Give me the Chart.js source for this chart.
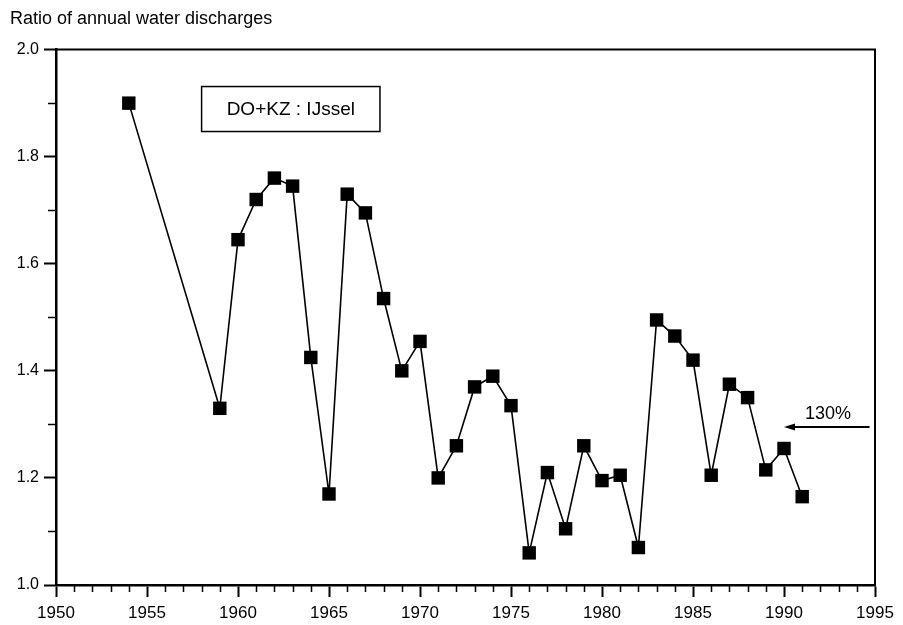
<!DOCTYPE html>
<html>
<head>
<meta charset="utf-8">
<script src="https://cdn.jsdelivr.net/npm/chart.js@4.4.1/dist/chart.umd.min.js"></script>
<style>
	html, body { margin: 0; padding: 0; background: #fff; }
	#wrap { width: 903px; height: 625px; position: relative; }
</style>
</head>
<body>
<div id="wrap"><canvas id="chart_ratio"></canvas></div>
<script>
'use strict';

// ratio DO+KZ : IJssel
const years = [1954, 1959, 1960, 1961, 1962, 1963, 1964, 1965, 1966, 1967, 1968, 1969, 1970,
	1971, 1972, 1973, 1974, 1975, 1976, 1977, 1978, 1979, 1980, 1981, 1982, 1983, 1984, 1985,
	1986, 1987, 1988, 1989, 1990, 1991];
const ratios = [1.90, 1.33, 1.645, 1.72, 1.76, 1.745, 1.425, 1.17, 1.73, 1.695, 1.535, 1.40, 1.455,
	1.20, 1.26, 1.37, 1.39, 1.335, 1.06, 1.21, 1.105, 1.26, 1.195, 1.205, 1.07, 1.495, 1.465, 1.42,
	1.205, 1.375, 1.35, 1.215, 1.255, 1.165];

const xTicks = [1950, 1955, 1960, 1965, 1970, 1975, 1980, 1985, 1990, 1995];
const yTicks = [1.0, 1.2, 1.4, 1.6, 1.8, 2.0];

const titleText = 'Ratio of annual water discharges';
const boxText = 'DO+KZ : IJssel';
const arrowText = '130%';
const arrowLevel = 1.295;

const FONT = '"Liberation Sans", Arial, Helvetica, sans-serif';
Chart.defaults.font.family = FONT;
Chart.defaults.color = '#000';

const notes = {
	id: 'notes',
	afterDraw(chart) {
		let ctx = chart.ctx,
			area = chart.chartArea,
			xs = chart.scales.x,
			ys = chart.scales.y;
		ctx.save();
		ctx.strokeStyle = '#000';
		ctx.fillStyle = '#000';

		// top and right frame
		ctx.lineWidth = 2;
		ctx.beginPath();
		ctx.moveTo(area.left, area.top);
		ctx.lineTo(area.right, area.top);
		ctx.lineTo(area.right, area.bottom);
		ctx.stroke();

		// minor ticks
		ctx.lineWidth = 1.5;
		ctx.beginPath();
		for (let yr = 1951; yr < 1995; yr++) {
			if (yr % 5 === 0) continue;
			let px = Math.round(xs.getPixelForValue(yr)) + 0.5;
			ctx.moveTo(px, area.bottom);
			ctx.lineTo(px, area.bottom + 7);
		}
		for (let v = 1.1; v < 2.0; v += 0.2) {
			let py = Math.round(ys.getPixelForValue(v)) + 0.5;
			ctx.moveTo(area.left - 8, py);
			ctx.lineTo(area.left, py);
		}
		ctx.stroke();

		// label box
		let bx1 = xs.getPixelForValue(1958),
			bx2 = xs.getPixelForValue(1967.8),
			by1 = ys.getPixelForValue(1.931),
			by2 = ys.getPixelForValue(1.847);
		ctx.lineWidth = 1.5;
		ctx.strokeRect(bx1, by1, bx2 - bx1, by2 - by1);
		ctx.font = '19px ' + FONT;
		ctx.textAlign = 'center';
		ctx.textBaseline = 'middle';
		ctx.fillText(boxText, (bx1 + bx2) / 2, (by1 + by2) / 2 + 1);

		// 130% arrow
		let ay = ys.getPixelForValue(arrowLevel),
			ax1 = xs.getPixelForValue(1994.7),
			ax2 = xs.getPixelForValue(1990.0);
		ctx.lineWidth = 2;
		ctx.beginPath();
		ctx.moveTo(ax1, ay);
		ctx.lineTo(ax2 + 8, ay);
		ctx.stroke();
		ctx.beginPath();
		ctx.moveTo(ax2, ay);
		ctx.lineTo(ax2 + 11, ay - 3.5);
		ctx.lineTo(ax2 + 11, ay + 3.5);
		ctx.closePath();
		ctx.fill();
		ctx.font = '18px ' + FONT;
		ctx.textAlign = 'left';
		ctx.textBaseline = 'alphabetic';
		ctx.fillText(arrowText, xs.getPixelForValue(1991.15), ys.getPixelForValue(1.31));
		ctx.restore();
	},
};

function renderChart(select) {
	let ctx = document.getElementById(select).getContext('2d');
	let points = years.map((yr, i) => ({x: yr, y: ratios[i]}));
	window.ChartRatio = new Chart(ctx, {
		type: 'line',
		data: {
			datasets: [{
				data: points,
				borderColor: '#000',
				borderWidth: 1.6,
				backgroundColor: '#000',
				pointStyle: 'rect',
				pointRadius: 9.5,
				pointBorderWidth: 0,
				pointBackgroundColor: '#000',
				tension: 0,
				clip: false,
			}],
		},
		options: {
			responsive: true,
			maintainAspectRatio: false,
			animation: false,
			devicePixelRatio: 1,
			layout: {padding: {left: 10, right: 28, top: 8, bottom: 0}},
			plugins: {
				legend: {display: false},
				tooltip: {enabled: false},
				title: {
					display: true,
					text: titleText,
					align: 'start',
					color: '#000',
					font: {size: 18, weight: 'normal'},
					padding: {top: 0, bottom: 20},
				},
			},
			scales: {
				x: {
					type: 'linear',
					min: 1950,
					max: 1995,
					afterBuildTicks: s => { s.ticks = xTicks.map(v => ({value: v})); },
					afterFit: s => { s.height = 40; },
					ticks: {
						color: '#000',
						font: {size: 17},
						padding: 6,
						maxRotation: 0,
						autoSkip: false,
						callback: v => String(v),
					},
					grid: {drawOnChartArea: false, tickLength: 12, tickWidth: 2, tickColor: '#000'},
					border: {color: '#000', width: 2.5},
				},
				y: {
					type: 'linear',
					min: 1.0,
					max: 2.0,
					afterBuildTicks: s => { s.ticks = yTicks.map(v => ({value: v})); },
					afterFit: s => { s.width = 46; },
					ticks: {
						color: '#000',
						font: {size: 16},
						padding: 5,
						callback: v => Number(v).toFixed(1),
					},
					grid: {drawOnChartArea: false, tickLength: 12, tickWidth: 2, tickColor: '#000'},
					border: {color: '#000', width: 2.5},
				},
			},
		},
		plugins: [notes],
	});
}

renderChart('chart_ratio');
</script>
</body>
</html>
